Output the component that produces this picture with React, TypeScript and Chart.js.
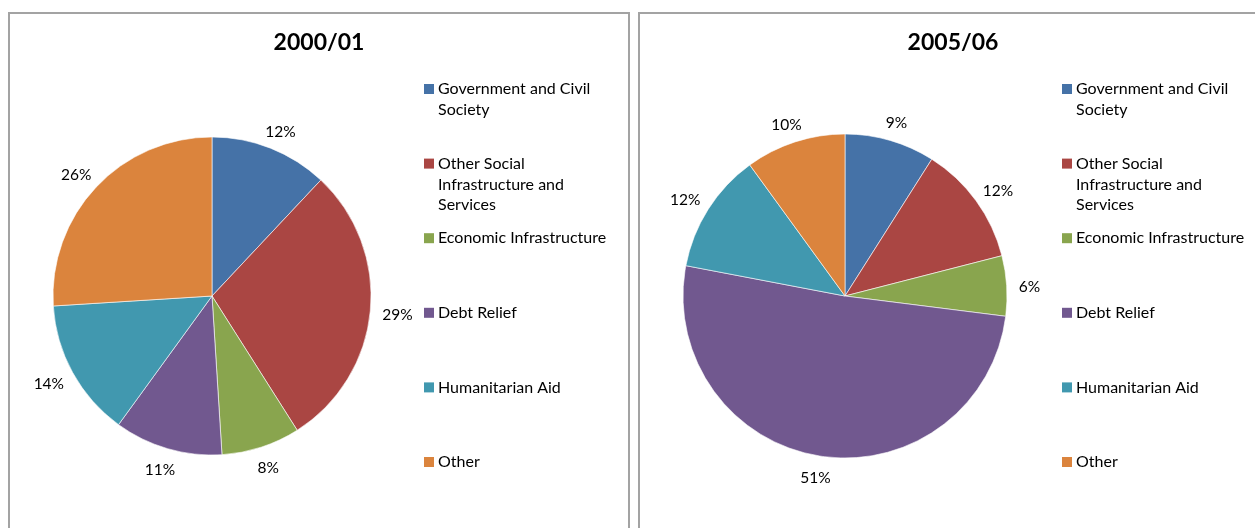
import React, { useEffect, useRef } from "react";
import { Chart, registerables } from "chart.js";

Chart.register(...registerables);

const categories = [
  "Government and Civil Society",
  "Other Social Infrastructure and Services",
  "Economic Infrastructure",
  "Debt Relief",
  "Humanitarian Aid",
  "Other",
];
const legendLines = [
  ["Government and Civil", "Society"],
  ["Other Social", "Infrastructure and", "Services"],
  ["Economic Infrastructure"],
  ["Debt Relief"],
  ["Humanitarian Aid"],
  ["Other"],
];
const values2000 = [12, 29, 8, 11, 14, 26];
const values2005 = [9, 12, 6, 51, 12, 10];
const sliceColors = ["#4572A7", "#AA4643", "#89A54E", "#71588F", "#4198AF", "#DB843D"];
const chartTitles = ["2000/01", "2005/06"];

const FONT = "Lato, 'Open Sans', sans-serif";

type PanelCfg = {
  title: string;
  values: number[];
  width: number;
  height: number;
  cx: number;
  cy: number;
  r: number;
};

function makeOverlay(cfg: PanelCfg) {
  return {
    id: "overlay",
    afterDatasetsDraw(chart: any) {
      const ctx = chart.ctx as CanvasRenderingContext2D;
      const meta = chart.getDatasetMeta(0);
      const data = chart.data.datasets[0].data as number[];
      const total = data.reduce((a, b) => a + b, 0);
      ctx.save();
      ctx.fillStyle = "#000";
      ctx.textAlign = "center";
      ctx.textBaseline = "middle";
      ctx.font = `15.5px ${FONT}`;
      meta.data.forEach((arc: any, i: number) => {
        const p = arc.getProps(["x", "y", "startAngle", "endAngle", "outerRadius"], true);
        const mid = (p.startAngle + p.endAngle) / 2;
        const text = `${Math.round((data[i] / total) * 100)}%`;
        const hw = ctx.measureText(text).width / 2 + 1;
        const hh = 9;
        const d = p.outerRadius + 11;
        const c = Math.cos(mid);
        const s = Math.sin(mid);
        ctx.fillText(text, p.x + c * (d + hw), p.y + s * (d + hh) + 2);
      });
      ctx.font = `bold 23px ${FONT}`;
      ctx.fillText(cfg.title, chart.width / 2, 29);
      ctx.font = `16px ${FONT}`;
      ctx.textAlign = "left";
      const lx = chart.width - 204;
      legendLines.forEach((lines, i) => {
        const y0 = 75 + i * 74.6;
        ctx.fillStyle = sliceColors[i];
        ctx.fillRect(lx, y0 - 5, 10, 10);
        ctx.fillStyle = "#000";
        lines.forEach((t, j) => ctx.fillText(t, lx + 14, y0 + j * 20.8));
      });
      ctx.restore();
    },
  };
}

function PiePanel({ cfg, left }: { cfg: PanelCfg; left: number }) {
  const ref = useRef<HTMLCanvasElement>(null);
  useEffect(() => {
    if (!ref.current) return;
    const chart = new Chart(ref.current, {
      type: "pie",
      data: {
        labels: categories,
        datasets: [
          {
            data: cfg.values,
            backgroundColor: sliceColors,
            borderColor: "#ffffff",
            borderWidth: 0.6,
            radius: cfg.r,
          },
        ],
      },
      options: {
        responsive: false,
        animation: false,
        devicePixelRatio: 1,
        layout: {
          padding: {
            left: cfg.cx - cfg.r,
            top: cfg.cy - cfg.r,
            right: cfg.width - cfg.cx - cfg.r,
            bottom: cfg.height - cfg.cy - cfg.r,
          },
        },
        plugins: {
          legend: { display: false },
          title: { display: false },
          tooltip: { enabled: false },
        },
      },
      plugins: [makeOverlay(cfg)],
    });
    return () => chart.destroy();
  }, [cfg]);
  return (
    <div
      style={{
        position: "absolute",
        left,
        top: 12,
        width: cfg.width + 4,
        height: 528,
        boxSizing: "border-box",
        borderTop: "2px solid #a3a3a3",
        borderLeft: "2px solid #a3a3a3",
        borderRight: "2px solid #a3a3a3",
        background: "#fff",
      }}
    >
      <canvas ref={ref} width={cfg.width} height={cfg.height} style={{ display: "block", width: cfg.width, height: cfg.height }} />
    </div>
  );
}

const leftCfg: PanelCfg = { title: chartTitles[0], values: values2000, width: 618, height: 514, cx: 202, cy: 282, r: 159 };
const rightCfg: PanelCfg = { title: chartTitles[1], values: values2005, width: 626, height: 514, cx: 205, cy: 282, r: 162 };

export default function App() {
  return (
    <div style={{ position: "fixed", inset: 0, overflow: "hidden", background: "#fff" }}>
      <PiePanel cfg={leftCfg} left={8} />
      <PiePanel cfg={rightCfg} left={638} />
    </div>
  );
}
